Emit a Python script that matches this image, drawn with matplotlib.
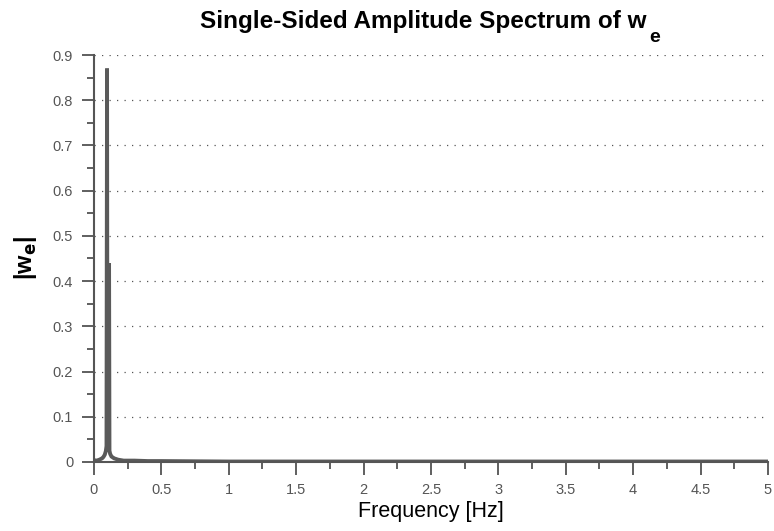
import numpy as np
import matplotlib
matplotlib.use("Agg")
import matplotlib.pyplot as plt
from matplotlib.ticker import MultipleLocator

# spectrum (Hz, amplitude)
freq = [0.0, 0.02, 0.04, 0.06, 0.07, 0.08, 0.088, 0.093, 0.097, 0.100,
        0.108, 0.112, 0.115, 0.12, 0.13, 0.15, 0.18, 0.22, 0.3, 0.4,
        0.5, 1.0, 2.0, 3.0, 4.0, 5.0]
amp = [0.004, 0.003, 0.005, 0.008, 0.011, 0.016, 0.024, 0.035, 0.87, 0.035,
       0.03, 0.44, 0.025, 0.018, 0.012, 0.008, 0.005, 0.003, 0.003, 0.002,
       0.002, 0.001, 0.001, 0.001, 0.001, 0.001]

x_ticks = [0, 0.5, 1, 1.5, 2, 2.5, 3, 3.5, 4, 4.5, 5]
x_labels = ["0", "0.5", "1", "1.5", "2", "2.5", "3", "3.5", "4", "4.5", "5"]
y_ticks = [0, 0.1, 0.2, 0.3, 0.4, 0.5, 0.6, 0.7, 0.8, 0.9]
y_labels = ["0", "0.1", "0.2", "0.3", "0.4", "0.5", "0.6", "0.7", "0.8", "0.9"]

plt.rcParams['font.family'] = ['Liberation Sans', 'DejaVu Sans']
plt.rcParams['mathtext.default'] = 'bf'

fig = plt.figure(figsize=(7.74, 5.31), dpi=100)
ax = fig.add_axes([0.1214, 0.13, 0.8708, 0.7664])

ax.plot(freq, amp, color='#5a5a5a', linewidth=2.8, solid_joinstyle='miter')

ax.set_xlim(0, 5)
ax.set_ylim(0, 0.9)
ax.set_xticks(x_ticks)
ax.set_xticklabels(x_labels)
ax.set_yticks(y_ticks)
ax.set_yticklabels(y_labels)
ax.xaxis.set_minor_locator(MultipleLocator(0.25))
ax.yaxis.set_minor_locator(MultipleLocator(0.05))

ax.tick_params(which='major', direction='out', length=9, width=1.2,
               color='#444444', labelcolor='#555555', labelsize=10.5, pad=6)
ax.tick_params(which='minor', direction='out', length=5, width=1.2,
               color='#444444')

for side in ["top", "right"]:
    ax.spines[side].set_visible(False)
for side in ["left", "bottom"]:
    ax.spines[side].set_color('#555555')
    ax.spines[side].set_linewidth(1.5)

ax.yaxis.grid(True, color='#555555', linewidth=0.9, dashes=(1, 5))
ax.set_axisbelow(True)

# title with a dropped subscript, as in the original
title = fig.text(200 / 774, 1 - 28 / 531, "Single-Sided Amplitude Spectrum of w",
                 fontsize=17.5, fontweight='bold', ha='left', va='baseline')
fig.canvas.draw()
bb = title.get_window_extent(fig.canvas.get_renderer())
fig.text((bb.x1 + 3) / 774, 1 - 42 / 531, "e", fontsize=14, fontweight='bold',
         ha='left', va='baseline')

ax.set_xlabel("Frequency [Hz]", fontsize=15.5, labelpad=3)
ax.set_ylabel(r"|w$_\mathbf{e}$|", fontsize=17, fontweight='bold', labelpad=10)

fig.savefig("out.png", dpi=100)
